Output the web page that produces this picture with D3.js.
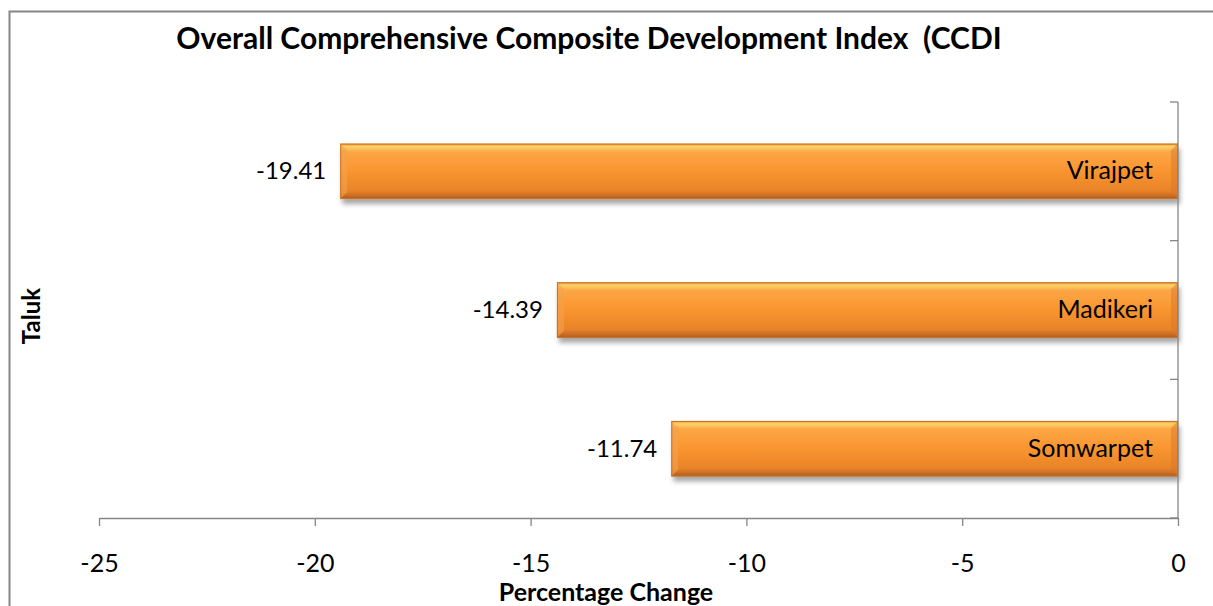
<!DOCTYPE html>
<html><head><meta charset="utf-8">
<script src="https://cdn.jsdelivr.net/npm/d3@7"></script>
<style>body{margin:0;background:#fff;} svg{display:block;font-family:Lato,"Open Sans",sans-serif;} text{white-space:pre;}</style>
</head><body>
<svg id="c" width="1213" height="606"></svg>
<script>
const categories = ["Virajpet", "Madikeri", "Somwarpet"];
const values = [-19.41, -14.39, -11.74];
const valueLabels = ["-19.41", "-14.39", "-11.74"];
const xTicks = [-25, -20, -15, -10, -5, 0];
const title = "Overall Comprehensive Composite Development Index  (CCDI";
const xTitle = "Percentage Change";
const yTitle = "Taluk";

const svg = d3.select("#c");
const defs = svg.append("defs");
const g1 = defs.append("linearGradient").attr("id","barGrad").attr("x1",0).attr("y1",0).attr("x2",0).attr("y2",1);
[[0,"#e88a2e"],[0.05,"#fdd36a"],[0.15,"#fca646"],[0.5,"#f9952f"],[0.85,"#e9832a"],[0.95,"#c56a22"],[1,"#a5581c"]]
  .forEach(([o,c])=>g1.append("stop").attr("offset",o).attr("stop-color",c));
const f = defs.append("filter").attr("id","shadow").attr("x","-5%").attr("y","-20%").attr("width","110%").attr("height","160%");
f.append("feGaussianBlur").attr("in","SourceAlpha").attr("stdDeviation",2.5).attr("result","b");
f.append("feOffset").attr("in","b").attr("dx",2).attr("dy",5).attr("result","o");
f.append("feComponentTransfer").attr("in","o").attr("result","oa").append("feFuncA").attr("type","linear").attr("slope",0.35);
const fm = f.append("feMerge"); fm.append("feMergeNode").attr("in","oa"); fm.append("feMergeNode").attr("in","SourceGraphic");

// outer border
svg.append("rect").attr("x",9.5).attr("y",11.5).attr("width",1220).attr("height",620)
  .attr("fill","none").attr("stroke","#868686").attr("stroke-width",2);

const x = d3.scaleLinear().domain([-25,0]).range([99,1178]);
const y = d3.scaleBand().domain(categories).range([102,518]).paddingInner(0.6).paddingOuter(0.3);

// bars
const bars = svg.append("g").selectAll("g").data(categories).join("g");
bars.append("rect")
  .attr("x",(d,i)=>x(values[i])).attr("y",d=>y(d))
  .attr("width",(d,i)=>x(0)-x(values[i])).attr("height",y.bandwidth())
  .attr("fill","url(#barGrad)").attr("filter","url(#shadow)");
bars.append("path").attr("d",(d,i)=>{
  const x0=x(values[i]), y0=y(d), h=y.bandwidth(), b=7;
  return `M${x0},${y0}L${x0+b},${y0+b}L${x0+b},${y0+h-b}L${x0},${y0+h}Z`;
}).attr("fill","#f3a24f").attr("opacity",0.6);
bars.append("path").attr("d",(d,i)=>{
  const x1=x(0), y0=y(d), h=y.bandwidth(), b=7;
  return `M${x1},${y0}L${x1-b},${y0+b}L${x1-b},${y0+h-b}L${x1},${y0+h}Z`;
}).attr("fill","#d9782a").attr("opacity",0.5);
bars.append("rect")
  .attr("x",(d,i)=>x(values[i])+0.5).attr("y",d=>y(d)+0.5)
  .attr("width",(d,i)=>x(0)-x(values[i])-1).attr("height",y.bandwidth()-1)
  .attr("fill","none").attr("stroke","#c9722a").attr("stroke-width",1);

// value labels
bars.append("text").attr("x",(d,i)=>x(values[i])-14).attr("y",d=>y(d)+y.bandwidth()/2+8)
  .attr("text-anchor","end").attr("font-size",24).attr("fill","#000").text((d,i)=>valueLabels[i]);
// category labels
bars.append("text").attr("x",x(0)-25).attr("y",d=>y(d)+y.bandwidth()/2+8)
  .attr("text-anchor","end").attr("font-size",25).attr("fill","#000").text(d=>d);

// x axis
const xa = svg.append("g").attr("transform","translate(0,518)")
  .call(d3.axisBottom(x).tickValues(xTicks).tickSize(8).tickSizeOuter(0).tickFormat(d3.format("d")));
xa.select(".domain").attr("stroke","#868686").attr("stroke-width",1.3);
xa.selectAll(".tick line").attr("stroke","#868686").attr("stroke-width",1.3);
xa.selectAll(".tick text").attr("font-size",25).attr("font-family","Lato,'Open Sans',sans-serif").attr("fill","#000")
  .attr("y",0).attr("dy",0).attr("transform","translate(0,54)")
  .text(d=>d===0?"0":String(d).replace("\u2212","-"));

// y axis
const yg = svg.append("g");
yg.append("line").attr("x1",x(0)).attr("x2",x(0)).attr("y1",102).attr("y2",518).attr("stroke","#868686").attr("stroke-width",1.3);
const bounds = d3.range(categories.length+1).map(i=>102+i*(518-102)/categories.length);
yg.selectAll("line.t").data(bounds).join("line").attr("class","t")
  .attr("x1",x(0)-8).attr("x2",x(0)).attr("y1",d=>d).attr("y2",d=>d).attr("stroke","#868686").attr("stroke-width",1.3);

// titles
svg.append("text").attr("x",589).attr("y",49).attr("text-anchor","middle").attr("font-size",30).attr("font-weight","bold").text(title);
svg.append("text").attr("x",606).attr("y",601).attr("text-anchor","middle").attr("font-size",25).attr("font-weight","bold").text(xTitle);
svg.append("text").attr("transform","translate(40,316) rotate(-90)").attr("text-anchor","middle").attr("font-size",24).attr("font-weight","bold").text(yTitle);
</script>
</body></html>
